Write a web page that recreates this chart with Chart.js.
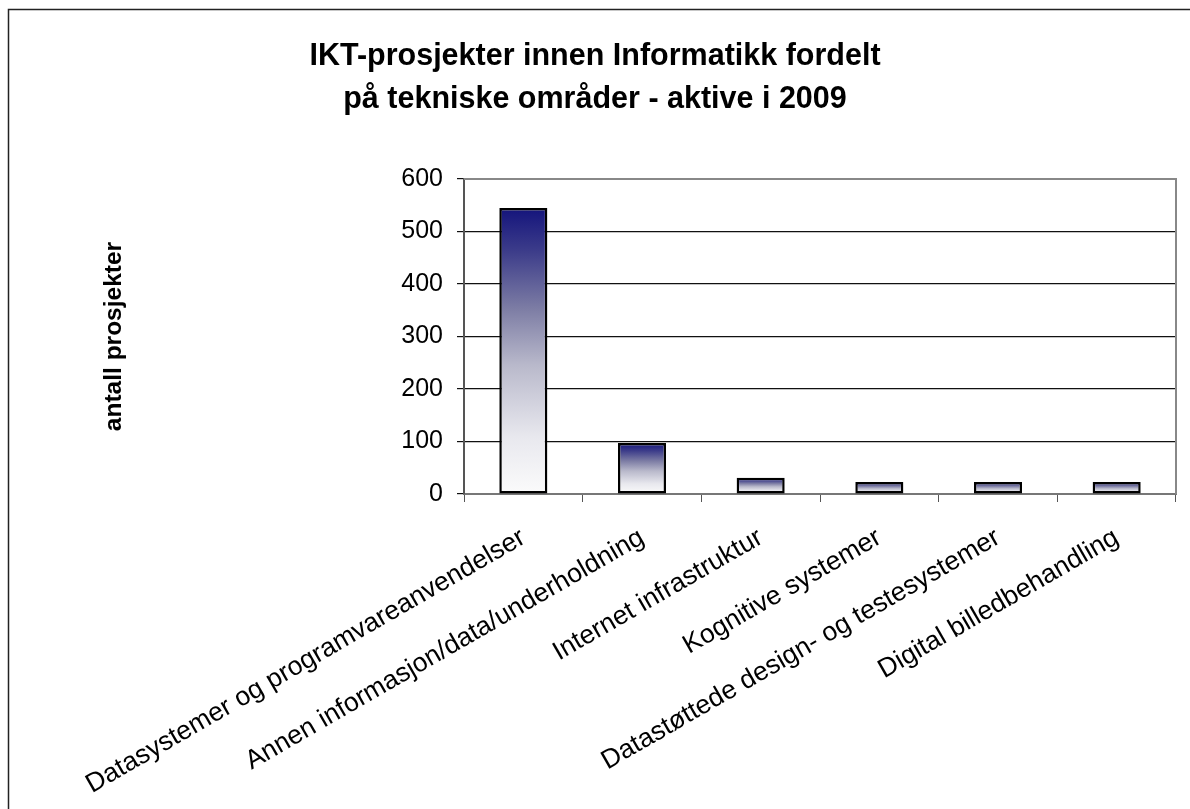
<!DOCTYPE html>
<html>
<head>
<meta charset="utf-8">
<script src="https://cdn.jsdelivr.net/npm/chart.js@4"></script>
<style>
  html, body { margin: 0; padding: 0; background: #fff; }
  #wrap { width: 1190px; height: 809px; }
</style>
</head>
<body>
<div id="wrap"><canvas id="prosjektChart" width="1190" height="809"></canvas></div>
<script>
const titleLines = ['IKT-prosjekter innen Informatikk fordelt', 'på tekniske områder - aktive i 2009'];
const yAxisTitle = 'antall prosjekter';
const categories = [
    'Datasystemer og programvareanvendelser',
    'Annen informasjon/data/underholdning',
    'Internet infrastruktur',
    'Kognitive systemer',
    'Datastøttede design- og testesystemer',
    'Digital billedbehandling'
];
const antall = [545, 97, 31, 23, 23, 23];
const yTicks = [0, 100, 200, 300, 400, 500, 600];

const FONT = '"Liberation Sans", Arial, sans-serif';

// vertical fade from navy at the bar top to white at the base
function barGradient(context) {
    const chart = context.chart;
    const y = chart.scales.y;
    if (!y || context.dataIndex === undefined) return '#8080b0';
    const top = y.getPixelForValue(antall[context.dataIndex]);
    const base = y.getPixelForValue(0);
    if (!isFinite(top) || !isFinite(base) || base <= top) return '#8080b0';
    const g = chart.ctx.createLinearGradient(0, top, 0, base);
    g.addColorStop(0, '#14147c');
    g.addColorStop(0.15, '#3c3c8a');
    g.addColorStop(0.35, '#7c7ca4');
    g.addColorStop(0.55, '#b9b9cb');
    g.addColorStop(0.8, '#e8e8ee');
    g.addColorStop(1, '#fbfbfb');
    return g;
}

// outer frame and grey plot border
const frame = {
    id: 'frame',
    beforeDraw(chart) {
        const ctx = chart.ctx;
        ctx.save();
        ctx.fillStyle = '#fff';
        ctx.fillRect(0, 0, chart.width, chart.height);
        ctx.strokeStyle = '#222';
        ctx.lineWidth = 1.5;
        ctx.strokeRect(8.5, 9.5, chart.width + 50, chart.height + 50);
        ctx.restore();
    },
    afterDatasetsDraw(chart) {
        const a = chart.chartArea;
        const ctx = chart.ctx;
        ctx.save();
        ctx.strokeStyle = '#888';
        ctx.lineWidth = 2;
        ctx.beginPath();
        ctx.moveTo(a.left, a.top);
        ctx.lineTo(a.right, a.top);
        ctx.lineTo(a.right, a.bottom);
        ctx.stroke();
        ctx.restore();
    }
};

new Chart(document.getElementById('prosjektChart'), {
    type: 'bar',
    data: {
        labels: categories,
        datasets: [{
            data: antall,
            backgroundColor: barGradient,
            borderColor: '#000',
            borderWidth: 2.5,
            borderSkipped: false,
            barPercentage: 0.405,
            categoryPercentage: 1
        }]
    },
    options: {
        responsive: false,
        animation: false,
        layout: { padding: { left: 14, right: 14, top: 0, bottom: 0 } },
        plugins: {
            legend: { display: false },
            tooltip: { enabled: false },
            title: {
                display: true,
                text: titleLines,
                color: '#000',
                font: { family: FONT, size: 30.5, weight: 'bold', lineHeight: 1.41 },
                padding: { top: 35, bottom: 58 }
            }
        },
        scales: {
            x: {
                grid: {
                    display: true,
                    drawOnChartArea: false,
                    tickLength: 8,
                    color: '#555'
                },
                border: { color: '#777', width: 2 },
                ticks: {
                    minRotation: 30,
                    maxRotation: 30,
                    autoSkip: false,
                    color: '#000',
                    padding: 20,
                    font: { family: FONT, size: 26.5 }
                },
                afterFit(scale) { scale.height = 315; }
            },
            y: {
                min: 0,
                max: 600,
                afterBuildTicks(scale) { scale.ticks = yTicks.map(v => ({ value: v })); },
                grid: {
                    color: '#111',
                    lineWidth: 1.2,
                    tickLength: 7
                },
                border: { color: '#555', width: 2 },
                ticks: {
                    color: '#000',
                    padding: 14,
                    font: { family: FONT, size: 25 }
                },
                title: {
                    display: true,
                    text: yAxisTitle,
                    color: '#000',
                    font: { family: FONT, size: 24.5, weight: 'bold' },
                    padding: { top: 86, bottom: 0 }
                },
                afterFit(scale) { scale.width = 450; }
            }
        }
    },
    plugins: [frame]
});
</script>
</body>
</html>
